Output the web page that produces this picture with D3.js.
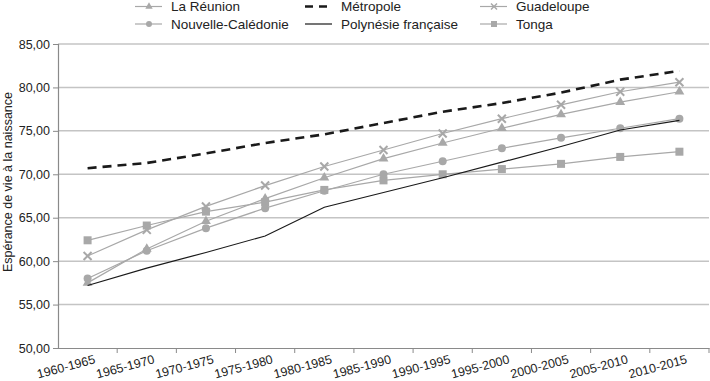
<!DOCTYPE html>
<html><head><meta charset="utf-8">
<script src="https://cdn.jsdelivr.net/npm/d3@7"></script>
<style>body{margin:0;background:#fff}svg{display:block;font-family:"Liberation Sans",Arial,sans-serif}</style>
</head><body><svg id="c" width="710" height="381"></svg>
<script>
const categories = ["1960-1965","1965-1970","1970-1975","1975-1980","1980-1985","1985-1990","1990-1995","1995-2000","2000-2005","2005-2010","2010-2015"];
const laReunion = [57.5,61.4,64.6,67.2,69.6,71.8,73.6,75.3,76.9,78.3,79.5];
const metropole = [70.7,71.3,72.4,73.6,74.6,75.9,77.2,78.2,79.4,80.9,81.9];
const guadeloupe = [60.6,63.6,66.3,68.7,70.9,72.8,74.7,76.4,78.0,79.5,80.6];
const nouvelleCaledonie = [58.0,61.2,63.8,66.1,68.1,70.0,71.5,73.0,74.2,75.3,76.4];
const polynesie = [57.2,59.2,61.0,62.9,66.2,67.9,69.6,71.4,73.2,75.1,76.2];
const tonga = [62.4,64.1,65.7,66.8,68.2,69.3,70.0,70.6,71.2,72.0,72.6];
const yTicks = [50,55,60,65,70,75,80,85];
const yTitle = "Espérance de vie à la naissance";

const GREY = "#a8a8a8";
const series = [
  {name:"La Réunion", values:laReunion, color:GREY, width:1.2, dash:null, marker:"triangle", lx:135, ly:6.5},
  {name:"Métropole", values:metropole, color:"#1a1a1a", width:2.6, dash:"9,6", marker:null, lx:305, ly:6.5},
  {name:"Guadeloupe", values:guadeloupe, color:GREY, width:1.2, dash:null, marker:"x", lx:480, ly:6.5},
  {name:"Nouvelle-Calédonie", values:nouvelleCaledonie, color:GREY, width:1.2, dash:null, marker:"circle", lx:135, ly:24},
  {name:"Polynésie française", values:polynesie, color:"#1a1a1a", width:1.2, dash:null, marker:null, lx:305, ly:24},
  {name:"Tonga", values:tonga, color:GREY, width:1.2, dash:null, marker:"square", lx:480, ly:24}
];

const svg = d3.select("#c");
const x = d3.scaleBand().domain(categories).range([58,709]);
const cx = c => x(c) + x.bandwidth()/2;
const y = d3.scaleLinear().domain([50,85]).range([348,44]);

// gridlines
svg.append("g").selectAll("line").data(yTicks.filter(t=>t>50)).join("line")
  .attr("x1",58).attr("x2",709).attr("y1",d=>y(d)).attr("y2",d=>y(d))
  .attr("stroke","#c4c4c4").attr("stroke-width",1.5);

// y axis
const yAxis = svg.append("g").attr("transform","translate(58,0)")
  .call(d3.axisLeft(y).tickValues(yTicks).tickSize(5).tickPadding(3).tickFormat(d=>d3.format(".2f")(d).replace(".",",")));
yAxis.select(".domain").attr("stroke","#8a8a8a").attr("stroke-width",1.2);
yAxis.selectAll(".tick line").attr("stroke","#8a8a8a");
yAxis.selectAll("text").attr("font-size",12.5).attr("fill","#222").attr("font-family","Liberation Sans, Arial, sans-serif");

// x axis
const xAxis = svg.append("g").attr("transform","translate(0,348)")
  .call(d3.axisBottom(x).tickSize(0).tickFormat(""));
xAxis.select(".domain").attr("stroke","#8a8a8a").attr("stroke-width",1.2);
svg.append("g").selectAll("line").data(categories).join("line")
  .attr("x1",d=>x(d)+x.bandwidth()).attr("x2",d=>x(d)+x.bandwidth())
  .attr("y1",348).attr("y2",353).attr("stroke","#8a8a8a");
svg.append("g").selectAll("text").data(categories).join("text")
  .attr("transform",d=>`translate(${cx(d)+6},${354}) rotate(-15)`)
  .attr("text-anchor","end").attr("dy","0.75em")
  .attr("font-size",12.5).attr("fill","#222").text(d=>d);

// y title
svg.append("text").attr("transform",`translate(12,182) rotate(-90)`)
  .attr("text-anchor","middle").attr("font-size",12.5).attr("fill","#222").text(yTitle);

function drawMarker(g, type, px, py, color){
  if(type==="triangle"){
    g.append("path").attr("d",d3.symbol(d3.symbolTriangle,42)()).attr("transform",`translate(${px},${py})`).attr("fill",color);
  } else if(type==="circle"){
    g.append("circle").attr("cx",px).attr("cy",py).attr("r",4).attr("fill",color);
  } else if(type==="square"){
    g.append("rect").attr("x",px-4).attr("y",py-4).attr("width",8).attr("height",8).attr("fill",color);
  } else if(type==="x"){
    g.append("path").attr("d",`M${px-4},${py-4}L${px+4},${py+4}M${px-4},${py+4}L${px+4},${py-4}`).attr("stroke",color).attr("stroke-width",2);
  }
}

const line = d3.line().x((d,i)=>cx(categories[i])).y(d=>y(d));
const order = [5,3,0,2,4,1];
order.forEach(i=>{
  const s = series[i];
  const g = svg.append("g");
  g.append("path").attr("d",line(s.values)).attr("fill","none").attr("stroke",s.color)
    .attr("stroke-width",s.width).attr("stroke-dasharray",s.dash);
  if(s.marker) s.values.forEach((v,j)=>drawMarker(g,s.marker,cx(categories[j]),y(v),s.color));
});

// legend
series.forEach(s=>{
  const g = svg.append("g");
  g.append("line").attr("x1",s.lx).attr("x2",s.lx+27).attr("y1",s.ly).attr("y2",s.ly)
    .attr("stroke",s.color).attr("stroke-width",s.dash?2.6:1.2).attr("stroke-dasharray",s.dash?"8,6":null);
  if(s.marker){
    const sc = 0.75;
    const mg = g.append("g").attr("transform",`translate(${s.lx+14},${s.ly}) scale(${sc}) translate(${-(s.lx+14)},${-s.ly})`);
    drawMarker(mg,s.marker,s.lx+14,s.ly,s.color);
  }
  g.append("text").attr("x",s.lx+36).attr("y",s.ly).attr("dy","0.35em")
    .attr("font-size",13.5).attr("fill","#222").text(s.name);
});
</script></body></html>
